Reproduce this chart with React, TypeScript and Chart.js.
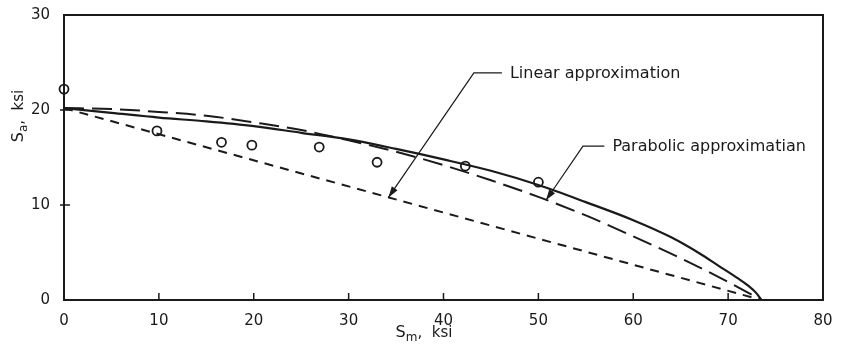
import React, { useEffect, useRef } from "react";
import { Chart, registerables } from "chart.js";

Chart.register(...registerables);

// Test data (open circles)
const testX = [0, 9.8, 16.6, 19.8, 26.9, 33.0, 42.3, 50.0];
const testY = [22.2, 17.8, 16.6, 16.3, 16.1, 14.5, 14.1, 12.4];

// Solid curve (fit through data)
const solidX = [0, 5, 10, 15, 20, 25, 30, 35, 40, 45, 50, 55, 60, 64, 67, 69, 71, 72, 73, 73.5];
const solidY = [20.2, 19.7, 19.2, 18.8, 18.3, 17.6, 16.9, 15.9, 14.8, 13.6, 12.1, 10.3, 8.4, 6.6, 4.9, 3.6, 2.3, 1.6, 0.7, 0];

// Parabolic approximation (long dashes)
const parabolicX = [0, 5, 10, 15, 20, 25, 30, 35, 40, 45, 50, 55, 60, 65, 70, 73.5];
const parabolicY = [20.2, 20.1, 19.8, 19.4, 18.7, 17.9, 16.8, 15.6, 14.2, 12.6, 10.85, 8.9, 6.7, 4.4, 1.9, 0];

// Linear approximation (short dashes)
const linearX = [0, 73.5];
const linearY = [20.2, 0];

const xTickValues = [10, 20, 30, 40, 50, 60, 70];
const yTickValues = [10, 20];

const linearLabel = "Linear approximation";
const parabolicLabel = "Parabolic approximatian";

// annotation geometry in data units
const linearLeader = { textX: 47.0, y: 23.9, bendX: 43.2, tipX: 34.2, tipY: 10.8 };
const parabolicLeader = { textX: 57.8, y: 16.2, bendX: 54.7, tipX: 50.8, tipY: 10.5 };

const FONT = "'DejaVu Sans', sans-serif";
const INK = "#1a1a1a";

const toPts = (xs: number[], ys: number[]) => xs.map((x, i) => ({ x, y: ys[i] }));

const decorPlugin = {
  id: "decor",
  afterDraw(chart: any) {
    const { ctx, chartArea: a, scales } = chart;
    const xs = scales.x;
    const ys = scales.y;
    ctx.save();
    ctx.strokeStyle = INK;
    ctx.fillStyle = INK;
    // frame
    ctx.lineWidth = 2;
    ctx.strokeRect(a.left, a.top, a.right - a.left, a.bottom - a.top);
    // inward ticks
    ctx.lineWidth = 1.5;
    ctx.beginPath();
    xTickValues.forEach((v) => {
      const px = xs.getPixelForValue(v);
      ctx.moveTo(px, a.bottom);
      ctx.lineTo(px, a.bottom - 7);
    });
    yTickValues.forEach((v) => {
      const py = ys.getPixelForValue(v);
      ctx.moveTo(a.left - 4, py);
      ctx.lineTo(a.left + 6, py);
    });
    ctx.stroke();

    // leaders
    const drawLeader = (L: any, text: string) => {
      const tx = xs.getPixelForValue(L.textX);
      const yy = ys.getPixelForValue(L.y);
      const bx = xs.getPixelForValue(L.bendX);
      const px = xs.getPixelForValue(L.tipX);
      const py = ys.getPixelForValue(L.tipY);
      ctx.lineWidth = 1.2;
      ctx.beginPath();
      ctx.moveTo(tx - 8, yy);
      ctx.lineTo(bx, yy);
      ctx.lineTo(px, py);
      ctx.stroke();
      const ang = Math.atan2(py - yy, px - bx);
      const len = 11;
      const w = 3.5;
      ctx.beginPath();
      ctx.moveTo(px, py);
      ctx.lineTo(px - len * Math.cos(ang) + w * Math.sin(ang), py - len * Math.sin(ang) - w * Math.cos(ang));
      ctx.lineTo(px - len * Math.cos(ang) - w * Math.sin(ang), py - len * Math.sin(ang) + w * Math.cos(ang));
      ctx.closePath();
      ctx.fill();
      ctx.font = `16px ${FONT}`;
      ctx.textBaseline = "middle";
      ctx.textAlign = "left";
      ctx.fillText(text, tx, yy + 1);
    };
    drawLeader(linearLeader, linearLabel);
    drawLeader(parabolicLeader, parabolicLabel);

    // axis titles
    const drawSub = (main: string, sub: string, rest: string) => {
      ctx.font = `16px ${FONT}`;
      const w1 = ctx.measureText(main).width;
      ctx.font = `12px ${FONT}`;
      const w2 = ctx.measureText(sub).width;
      ctx.font = `15px ${FONT}`;
      const w3 = ctx.measureText(rest).width;
      const total = w1 + w2 + w3;
      let x = -total / 2;
      ctx.textAlign = "left";
      ctx.textBaseline = "alphabetic";
      ctx.font = `16px ${FONT}`;
      ctx.fillText(main, x, 5);
      x += w1;
      ctx.font = `12px ${FONT}`;
      ctx.fillText(sub, x, 9);
      x += w2;
      ctx.font = `15px ${FONT}`;
      ctx.fillText(rest, x, 5);
    };
    ctx.save();
    ctx.translate(424, 332);
    drawSub("S", "m", ",  ksi");
    ctx.restore();
    ctx.save();
    ctx.translate(18, 116);
    ctx.rotate(-Math.PI / 2);
    drawSub("S", "a", ",  ksi");
    ctx.restore();

    ctx.restore();
  },
};

export default function App() {
  const ref = useRef<HTMLCanvasElement | null>(null);
  useEffect(() => {
    if (!ref.current) return;
    const chart = new Chart(ref.current, {
      type: "scatter",
      data: {
        datasets: [
          {
            label: "Linear",
            data: toPts(linearX, linearY),
            showLine: true,
            borderColor: INK,
            borderWidth: 2,
            borderDash: [9, 7],
            pointRadius: 0,
          },
          {
            label: "Parabolic",
            data: toPts(parabolicX, parabolicY),
            showLine: true,
            borderColor: INK,
            borderWidth: 2,
            borderDash: [20, 8],
            pointRadius: 0,
            cubicInterpolationMode: "monotone",
          },
          {
            label: "Solid",
            data: toPts(solidX, solidY),
            showLine: true,
            borderColor: INK,
            borderWidth: 2.2,
            pointRadius: 0,
            cubicInterpolationMode: "monotone",
          },
          {
            label: "Test",
            data: toPts(testX, testY),
            showLine: false,
            clip: false,
            pointRadius: 4.5,
            pointBorderWidth: 1.8,
            pointBorderColor: INK,
            pointBackgroundColor: "#ffffff",
          },
        ],
      },
      options: {
        responsive: false,
        animation: false,
        layout: { padding: { left: 0, right: 21, top: 13, bottom: 0 } },
        plugins: { legend: { display: false }, tooltip: { enabled: false } },
        scales: {
          x: {
            type: "linear",
            min: 0,
            max: 80,
            grid: { display: false },
            border: { display: false },
            ticks: { stepSize: 10, color: INK, font: { family: FONT, size: 15 }, padding: 4 },
            afterFit: (s: any) => {
              s.height = 54;
            },
          },
          y: {
            type: "linear",
            min: 0,
            max: 30,
            grid: { display: false },
            border: { display: false },
            ticks: { stepSize: 10, color: INK, font: { family: FONT, size: 15 }, padding: 6 },
            afterFit: (s: any) => {
              s.width = 64;
            },
          },
        },
      },
      plugins: [decorPlugin],
    });
    return () => chart.destroy();
  }, []);
  return (
    <div style={{ position: "absolute", left: 0, top: 0, width: 844, height: 354, background: "#fff" }}>
      <canvas ref={ref} width={844} height={354} />
    </div>
  );
}
